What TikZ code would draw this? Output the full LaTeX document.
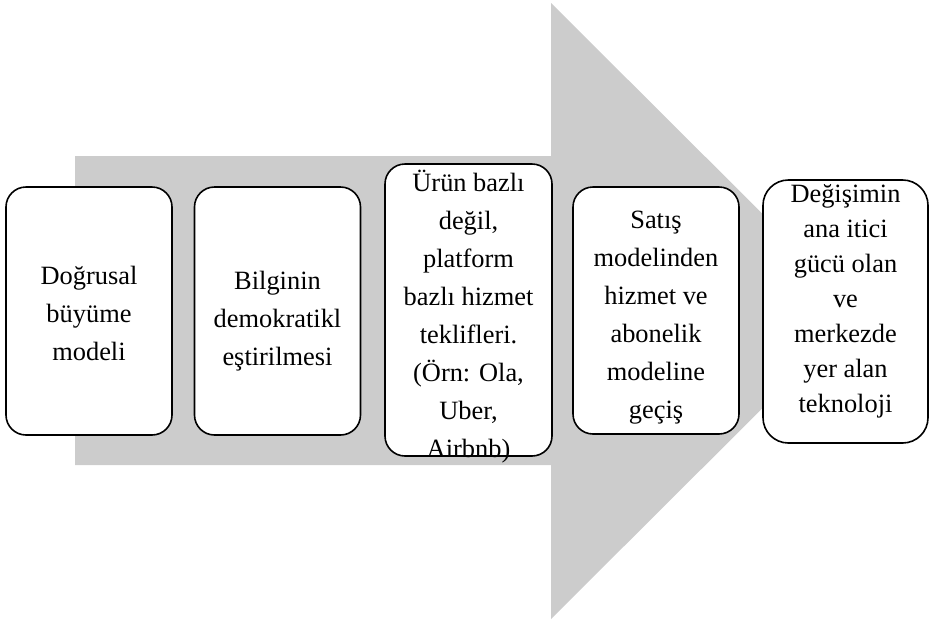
\documentclass[tikz,border=0pt]{standalone}
\usepackage{fontspec}
\setmainfont{Liberation Serif}
\usepackage{xcolor}
\definecolor{arrowgray}{RGB}{204,204,204}

\begin{document}
\begin{tikzpicture}[x=0.75pt,y=-0.75pt]
  \tikzset{
    card/.style={draw,line width=1.2pt,fill=white,rounded corners=15pt,
      minimum width=124.5pt,inner sep=0pt},
    cardtext/.style={align=center,inner sep=0pt,
      font=\fontsize{19.8}{28.5}\selectfont}
  }
  % page frame, given in pixels of the original drawing
  \useasboundingbox (0,0) rectangle (929,622);

  % the big gray arrow that runs behind all cards
  \fill[arrowgray] (75,156) -- (551,156) -- (551,3) -- (860,311)
    -- (551,619) -- (551,465) -- (75,465) -- cycle;

  % the cards: an empty box first, its text put on top of it
  \node[card,minimum height=186pt] (growth) at (89,311) {};
  \node[card,minimum height=186pt] (knowledge) at (277.5,311) {};
  \node[card,minimum width=125.25pt,minimum height=219pt] (platform) at (468.5,310) {};
  \node[card,minimum height=185.25pt] (subscription) at (656,310.5) {};
  \node[card,minimum width=123.75pt,minimum height=197.25pt,
    rounded corners=19pt] (technology) at (845.5,311.5) {};

  \node[cardtext,yshift=-2.2pt] (growthtext) at (growth)
    {Doğrusal\\büyüme\\modeli};
  \node[cardtext,yshift=-7.7pt] (knowledgetext) at (knowledge)
    {Bilginin\\demokratikl\\eştirilmesi};
  % this text is taller than its box and runs over the lower edge
  \node[cardtext,yshift=-5pt] (platformtext) at (platform)
    {Ürün bazlı\\değil,\\platform\\bazlı hizmet\\teklifleri.\\(Örn: Ola,\\Uber,\\Airbnb)};
  \node[cardtext,yshift=-5.4pt] (subscriptiontext) at (subscription)
    {Satış\\modelinden\\hizmet ve\\abonelik\\modeline\\geçiş};
  \node[cardtext,yshift=7.8pt,font=\fontsize{19.8}{26.25}\selectfont]
    (technologytext) at (technology)
    {Değişimin\\ana itici\\gücü olan\\ve\\merkezde\\yer alan\\teknoloji};

\end{tikzpicture}
\end{document}
